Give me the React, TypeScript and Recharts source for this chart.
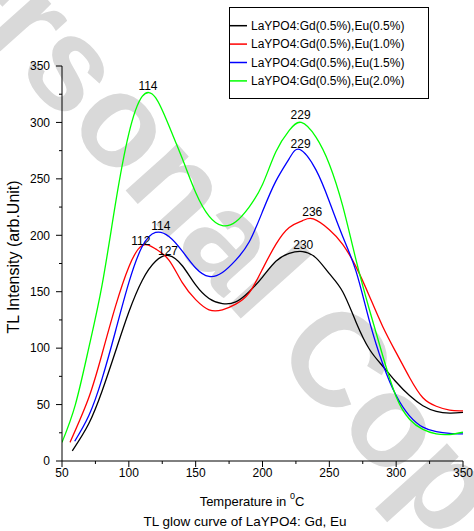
import React from "react";
import { LineChart, Line, XAxis, YAxis, ReferenceDot } from "recharts";

const FONT = "'Liberation Sans', Arial, sans-serif";

// temperatures (°C) and TL intensities
const blackT = [57.7, 70, 80, 90, 100, 110, 120, 130, 140, 150, 160, 170, 180, 190, 200, 210, 220, 230, 240, 250, 260, 270, 280, 290, 300, 310, 320, 330, 340, 350];
const blackI = [9, 33, 62, 97, 132, 160, 177, 182, 173, 156, 144, 139.5, 141, 150, 163, 177, 184, 185.6, 180, 166, 150, 123, 99, 84, 70, 58, 49, 44, 42.5, 43];

const redT = [56, 70, 80, 90, 100, 110, 120, 130, 140, 150, 160, 170, 180, 190, 200, 210, 220, 230, 238, 250, 260, 270, 280, 290, 300, 310, 320, 330, 340, 350];
const redI = [16.5, 56, 95, 137, 172, 191, 188, 178, 158, 143, 134, 134, 139, 149, 170, 192, 207, 213, 214.5, 205, 192, 172, 146, 119, 96, 74, 56, 48.5, 45, 44.5];

const blueT = [59.5, 70, 80, 90, 100, 110, 120, 130, 140, 150, 160, 170, 180, 190, 200, 210, 220, 228, 240, 250, 260, 270, 280, 290, 300, 310, 320, 330, 340, 350];
const blueI = [17.5, 40, 73, 115, 158, 190, 202.5, 199, 186, 171, 163.5, 167, 178, 194, 221, 248, 268, 276, 258, 230, 199, 168, 124, 86, 58, 40, 30, 26, 24.5, 24];

const greenT = [50, 60, 70, 80, 90, 100, 110, 120, 130, 140, 150, 160, 170, 180, 190, 200, 210, 220, 229, 240, 250, 260, 270, 280, 290, 300, 310, 320, 330, 340, 350];
const greenI = [16.5, 50, 100, 156, 228, 290, 323, 322, 297, 268, 238, 217, 208.5, 212, 225, 245, 274, 293, 300, 287, 263, 226, 178, 134, 93, 57, 37, 28, 24, 23.5, 25.5];

const seriesNames = [
  "LaYPO4:Gd(0.5%),Eu(0.5%)",
  "LaYPO4:Gd(0.5%),Eu(1.0%)",
  "LaYPO4:Gd(0.5%),Eu(1.5%)",
  "LaYPO4:Gd(0.5%),Eu(2.0%)",
];
const seriesColors = ["#000000", "#ff0000", "#0000ff", "#00ff00"];

// peak annotations: position (T, I) and the printed peak temperature
const peakT = [114.3, 124, 109, 129.3, 228.5, 228.5, 237.2, 230.5];
const peakI = [327, 203, 190, 181, 301, 276, 215, 186];
const peakText = ["114", "114", "112", "127", "229", "229", "236", "230"];

const xTicks = [50, 75, 100, 125, 150, 175, 200, 225, 250, 275, 300, 325, 350];
const yTicks = [0, 25, 50, 75, 100, 125, 150, 175, 200, 225, 250, 275, 300, 325, 350];

const toRows = (ts: number[], vs: number[]) => ts.map((t, k) => ({ t, i: vs[k] }));
const lines = [toRows(blackT, blackI), toRows(redT, redI), toRows(blueT, blueI), toRows(greenT, greenI)];

const YTick = (props: any) => {
  const { x, y, payload } = props;
  const major = payload.value % 50 === 0;
  return (
    <g>
      <line x1={x} x2={x - (major ? 6 : 3)} y1={y} y2={y} stroke="#000" />
      {major && (
        <text x={x - 12} y={y} dy={4.3} textAnchor="end" fontSize={12} fontFamily={FONT} fill="#000">
          {payload.value}
        </text>
      )}
    </g>
  );
};

const XTick = (props: any) => {
  const { x, y, payload } = props;
  const major = payload.value % 50 === 0;
  return (
    <g>
      <line x1={x} x2={x} y1={y} y2={y + (major ? 6 : 3)} stroke="#000" />
      {major && (
        <text x={x} y={y + 16} textAnchor="middle" fontSize={12} fontFamily={FONT} fill="#000">
          {payload.value}
        </text>
      )}
    </g>
  );
};

export default function App() {
  return (
    <div style={{ position: "absolute", left: 0, top: 0, width: 474, height: 531, background: "#fff", overflow: "hidden" }}>
      {/* watermark */}
      <svg width={474} height={531} style={{ position: "absolute", left: 0, top: 0 }}>
        <text
          x={217}
          y={224}
          transform="rotate(48 217 224)"
          textAnchor="middle"
          dominantBaseline="central"
          fontSize={132}
          fontWeight="bold"
          fontFamily={FONT}
          fill="#d9d9d9"
        >
          Personal Copy
        </text>
      </svg>

      <LineChart width={474} height={531} data={lines[0]} margin={{ top: 66, right: 11, bottom: 0, left: 0 }}>
        <XAxis
          dataKey="t"
          type="number"
          domain={[50, 350]}
          ticks={xTicks}
          interval={0}
          height={70}
          tickSize={0}
          tickMargin={0}
          tick={<XTick />}
          axisLine={{ stroke: "#000" }}
          allowDataOverflow
        />
        <YAxis
          type="number"
          domain={[0, 350]}
          ticks={yTicks}
          interval={0}
          width={62}
          tickSize={0}
          tickMargin={0}
          tick={<YTick />}
          axisLine={{ stroke: "#000" }}
          allowDataOverflow
        />
        {lines.map((d, k) => (
          <Line
            key={seriesNames[k]}
            data={d}
            dataKey="i"
            type="natural"
            stroke={seriesColors[k]}
            strokeWidth={1.3}
            dot={false}
            activeDot={false}
            isAnimationActive={false}
          />
        ))}
        {peakText.map((txt, k) => (
          <ReferenceDot
            key={k}
            x={peakT[k]}
            y={peakI[k]}
            r={0}
            fill="none"
            stroke="none"
            label={{ value: txt, position: "top", offset: 2, fontSize: 12, fontFamily: FONT, fill: "#000" }}
          />
        ))}
      </LineChart>

      {/* titles and legend */}
      <svg width={474} height={531} style={{ position: "absolute", left: 0, top: 0, pointerEvents: "none" }} fontFamily={FONT}>
        <text x={18.5} y={257} transform="rotate(-90 18.5 257)" textAnchor="middle" fontSize={16} fill="#000">
          TL Intensity (arb.Unit)
        </text>
        <text x={252} y={506} textAnchor="middle" fontSize={13} fill="#000">
          Temperature in <tspan fontSize={9} dy={-7}>0</tspan>
          <tspan dy={7}>C</tspan>
        </text>
        <text x={245} y={526} textAnchor="middle" fontSize={13.5} fill="#000">
          TL glow curve of LaYPO4: Gd, Eu
        </text>
        <rect x={229.5} y={7.5} width={199} height={91} fill="#fff" stroke="#000" strokeWidth={1} />
        {seriesNames.map((name, k) => {
          const cy = 25.7 + k * 18.4;
          return (
            <g key={name}>
              <line x1={230} x2={247} y1={cy} y2={cy} stroke={seriesColors[k]} strokeWidth={1.5} />
              <text x={251} y={cy + 4.3} fontSize={12} fill="#000">
                {name}
              </text>
            </g>
          );
        })}
      </svg>
    </div>
  );
}
